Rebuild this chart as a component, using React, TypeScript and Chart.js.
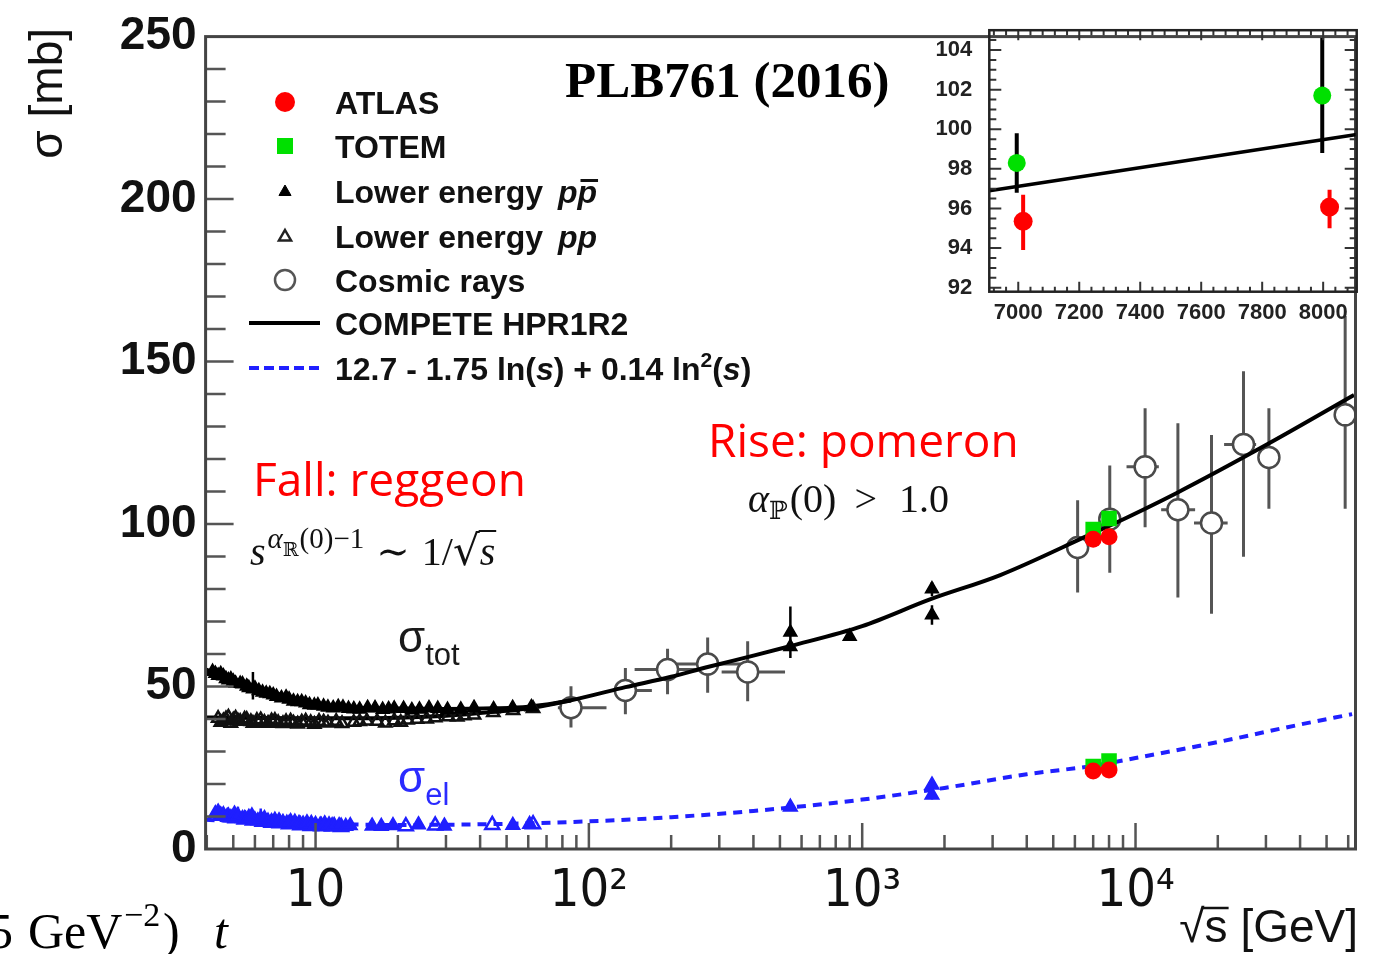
import { useEffect, useRef } from 'react';
import { Chart, registerables } from 'chart.js';

Chart.register(...registerables);

const W = 1381;
const H = 954;

const SANS = "'Liberation Sans', Arial, sans-serif";
const NARROW = "'Liberation Sans Narrow', 'DejaVu Sans Condensed', 'Liberation Sans', sans-serif";
const SERIF = "'Liberation Serif', 'DejaVu Serif', serif";
const MATHSYM = "'DejaVu Serif', 'Liberation Serif', serif";
const HUMANIST = "'Open Sans', 'Liberation Sans', sans-serif";

// ---------- main panel axis ranges / tick labels ----------
const X_MIN = 3.96;
const X_MAX = 63800;
const Y_MIN = 0;
const Y_MAX = 250;
const xTickValues = [10, 100, 1000, 10000];
const xTickLabels = ['10', '10²', '10³', '10⁴'];
const xMinorMantissas = [2, 3, 4, 5, 6, 7, 8, 9];
const yTickValues = [0, 50, 100, 150, 200, 250];

// ---------- cosmic-ray sigma_tot (sqrt(s) GeV, sigma mb) ----------
const cosmicSqrtS = [86, 136, 194, 272, 381, 6140, 8050, 10840, 14290, 18970, 24830, 30760, 58480];
const cosmicSigma = [43.5, 48.8, 55.2, 56.9, 54.5, 92.8, 101.5, 117.6, 104.4, 100.3, 124.5, 120.5, 133.6];
const cosmicSigmaLo = [37.4, 41.5, 47.6, 48.1, 45.5, 78.9, 85.0, 99.0, 77.4, 72.4, 89.9, 104.7, 104.7];
const cosmicSigmaHi = [50.1, 55.7, 61.6, 65.1, 63.9, 107.3, 118.0, 135.6, 131.0, 127.4, 147.0, 135.6, 164.0];
const cosmicSqrtSLo = [77, 124, 147, 210, 306, null, null, 9270, 12410, 16370, 21090, null, null];
const cosmicSqrtSHi = [116, 170, 255, 367, 522, null, null, 12170, 16520, 21730, 27620, null, null];

// ---------- lower-energy p-pbar sigma_tot ----------
const ppbarTotSqrtS = [
  4.2, 4.3, 4.4, 4.5, 4.6, 4.7, 4.8, 4.9, 5.0, 5.1, 5.3, 5.4, 5.6, 5.7, 5.9, 6.0, 6.2, 6.4, 6.6, 6.8,
  7.0, 7.2, 7.5, 7.8, 8.0, 8.3, 8.6, 8.9, 9.2, 9.5, 9.9, 10.2, 10.7, 11.1, 11.6, 12.1, 12.6, 13.2, 13.8, 14.5,
  15.5, 16.5, 17.6, 18.5, 19.4, 21.0, 22.5, 24.0, 26.0, 28.0, 30.4, 34.0, 38.0, 44.8, 52.6, 61.6,
  546, 546, 900, 1800, 1800,
];
const ppbarTot = [
  54.6, 54.0, 53.4, 53.9, 53.2, 52.4, 52.0, 52.3, 51.6, 51.0, 50.9, 50.8, 50.1, 49.6, 49.2, 49.5, 48.7, 48.2, 47.9, 47.8,
  47.4, 46.9, 46.5, 46.7, 46.1, 45.5, 45.3, 45.3, 44.9, 44.4, 44.2, 44.3, 43.9, 43.6, 43.4, 43.8, 43.6, 43.2, 43.1, 43.0,
  43.5, 43.4, 42.9, 43.1, 43.3, 43.2, 42.8, 43.0, 43.4, 43.2, 42.9, 43.0, 43.5, 43.1, 43.5, 43.7,
  62.2, 66.7, 65.4, 72.0, 80.0,
];
// p-pbar sigma_tot points that carry visible error bars
const ppbarBarSqrtS = [5.9, 61.6, 546, 1800, 1800];
const ppbarBarSigma = [49.2, 43.7, 66.7, 72.0, 80.0];
const ppbarBarLo = [46.0, 42.3, 58.8, 69.0, 77.8];
const ppbarBarHi = [54.5, 45.1, 74.6, 75.0, 82.2];

// ---------- lower-energy pp sigma_tot ----------
const ppTotSqrtS = [
  4.4, 4.5, 4.6, 4.7, 4.8, 4.9, 5.0, 5.1, 5.2, 5.3, 5.5, 5.6, 5.8, 5.9, 6.1, 6.3, 6.5, 6.7, 6.9, 7.1,
  7.3, 7.6, 7.8, 8.1, 8.3, 8.6, 8.9, 9.2, 9.6, 9.9, 10.3, 10.7, 11.1, 11.9, 12.5, 13.8, 14.5, 15.4, 16.8, 18.0,
  19.4, 20.5, 21.7, 23.5, 25.5, 27.4, 30.6, 33.0, 35.0, 38.0, 44.7, 52.8, 62.5,
];
const ppTot = [
  40.2, 39.0, 39.5, 40.1, 40.6, 38.7, 39.7, 40.3, 39.4, 39.3, 40.0, 39.9, 39.2, 38.7, 39.6, 39.8, 39.0, 38.7, 39.5, 39.6,
  38.9, 38.6, 39.2, 39.4, 38.8, 38.5, 39.1, 39.4, 38.9, 38.4, 39.3, 39.1, 38.8, 39.3, 38.6, 39.0, 39.2, 39.4, 39.3, 38.8,
  39.5, 39.0, 39.7, 39.9, 40.0, 40.4, 40.7, 40.6, 41.0, 41.2, 42.0, 42.6, 43.2,
];

// ---------- lower-energy sigma_el ----------
const elPpbarSqrtS = [
  4.3, 4.4, 4.6, 4.75, 4.9, 5.05, 5.2, 5.4, 5.55, 5.7, 5.85, 6.0, 6.15, 6.3, 6.5, 6.7, 6.9, 7.1, 7.35, 7.6,
  7.85, 8.1, 8.4, 8.7, 9.0, 9.3, 9.65, 10.0, 10.4, 10.8, 11.2, 11.7, 12.2, 12.9, 13.4, 16.1, 17.4, 19.2, 23.8, 29.6,
  52.7, 60.7, 546, 1800, 1800,
];
const elPpbar = [
  10.9, 11.4, 10.6, 10.1, 9.7, 10.8, 10.3, 9.4, 9.2, 9.8, 10.2, 9.0, 8.7, 9.3, 9.4, 8.6, 8.4, 8.9, 8.7, 8.2,
  8.0, 8.5, 8.3, 7.9, 7.7, 8.1, 7.9, 7.6, 7.4, 7.8, 7.5, 7.3, 7.2, 7.0, 7.2, 7.1, 7.0, 7.2, 7.5, 7.1,
  7.3, 7.6, 12.9, 19.7, 16.6,
];
const elBarSqrtS = [4.4, 5.2, 6.3, 1800, 1800];
const elBarSigma = [11.4, 10.3, 9.3, 19.7, 16.6];
const elBarLo = [9.5, 8.5, 7.5, 18.2, 15.2];
const elBarHi = [12.8, 13.0, 12.5, 21.2, 18.0];
const elPpSqrtS = [4.5, 4.8, 5.1, 5.5, 5.9, 6.4, 6.9, 7.4, 8.0, 8.8, 9.6, 10.5, 11.5, 12.4, 21.4, 27.4, 44.3, 62.5];
const elPp = [10.2, 9.9, 9.5, 9.1, 8.8, 8.4, 8.1, 7.9, 7.6, 7.3, 7.1, 7.0, 6.9, 6.8, 7.0, 7.2, 7.4, 7.6];

// ---------- LHC points ----------
const atlasSqrtS = [7000, 8000];
const atlasTot = [95.35, 96.07];
const atlasEl = [24.0, 24.33];
const totemSqrtS = [7000, 8000];
const totemTot = [98.3, 101.7];
const totemEl = [25.4, 27.1];

// ---------- fit curves ----------
const competePpbarSqrtS = [3.96, 5, 7, 10, 14, 20, 30, 45, 60, 86, 136, 200, 272, 400, 543, 1000, 1770, 3200, 7000, 8000, 14100, 30000, 63000];
const competePpbarSigma = [55.3, 52.0, 48.2, 44.6, 43.5, 43.2, 43.1, 43.3, 43.8, 45.8, 49.8, 53.0, 56.0, 59.5, 62.4, 68.6, 76.8, 84.3, 97.2, 99.4, 109.5, 124.3, 139.7];
const competePpSqrtS = [3.96, 5, 7, 10, 14, 20, 30, 45, 60, 86];
const competePpSigma = [40.5, 40.4, 40.3, 40.2, 40.2, 40.4, 41.0, 42.2, 43.3, 45.7];
const elFitSqrtS = [3.96, 6, 10, 20, 40, 100, 200, 400, 1000, 2000, 4000, 7000, 10000, 20000, 40000, 62000];
const elFitSigma = [9.0, 8.3, 7.8, 7.4, 7.6, 8.5, 9.8, 11.7, 15.2, 18.8, 23.0, 25.6, 28.0, 32.9, 38.3, 41.5];

// ---------- inset (7-8 TeV zoom) ----------
const IN_X_MIN = 6905;
const IN_X_MAX = 8110;
const IN_Y_MIN = 91.8;
const IN_Y_MAX = 105;
const insetTotemX = [6995, 7997];
const insetTotemY = [98.3, 101.7];
const insetTotemLo = [96.8, 98.8];
const insetTotemHi = [99.8, 104.6];
const insetAtlasX = [7016, 8021];
const insetAtlasY = [95.35, 96.07];
const insetAtlasLo = [93.9, 95.0];
const insetAtlasHi = [96.7, 96.95];
const insetFitX = [6905, 8110];
const insetFitY = [96.9, 99.74];

type Num = number | null;
const pts = (xs: number[], ys: number[], yLo?: Num[], yHi?: Num[], xLo?: Num[], xHi?: Num[]) =>
  xs.map((x, i) => ({
    x,
    y: ys[i],
    yLo: yLo ? yLo[i] : null,
    yHi: yHi ? yHi[i] : null,
    xLo: xLo ? xLo[i] : null,
    xHi: xHi ? xHi[i] : null,
  }));

// Error bars are stroked just before the owning dataset's markers.
const errorBars = {
  id: 'errorBars',
  beforeDatasetDraw(chart: any, args: any) {
    const ds = chart.data.datasets[args.index];
    if (!ds.errColor) return;
    const xs = chart.scales.x;
    const ys = chart.scales.y;
    const { ctx, chartArea: a } = chart;
    ctx.save();
    ctx.beginPath();
    ctx.rect(a.left, a.top, a.right - a.left, a.bottom - a.top);
    ctx.clip();
    ctx.strokeStyle = ds.errColor;
    ctx.lineWidth = ds.errWidth || 2;
    ctx.beginPath();
    for (const p of ds.data) {
      const px = xs.getPixelForValue(p.x);
      const py = ys.getPixelForValue(p.y);
      if (p.yLo != null && p.yHi != null) {
        ctx.moveTo(px, ys.getPixelForValue(p.yLo));
        ctx.lineTo(px, ys.getPixelForValue(p.yHi));
      }
      if (p.xLo != null && p.xHi != null) {
        ctx.moveTo(xs.getPixelForValue(p.xLo), py);
        ctx.lineTo(xs.getPixelForValue(p.xHi), py);
      }
    }
    ctx.stroke();
    ctx.restore();
  },
};

// ROOT-style frame with ticks pointing into the plot.
function framePlugin(cfg: any) {
  return {
    id: 'frame',
    afterDatasetsDraw(chart: any) {
      const { ctx, chartArea: a, scales } = chart;
      const xs = scales.x;
      const ys = scales.y;
      ctx.save();
      ctx.strokeStyle = cfg.tickColor;
      ctx.lineWidth = cfg.tickWidth;
      ctx.beginPath();
      for (const t of xs.ticks) {
        const px = xs.getPixelForValue(t.value);
        if (px <= a.left + 1 || px >= a.right - 1) continue;
        const len = cfg.isMajorX(t.value) ? cfg.xMajor : cfg.xMinor;
        ctx.moveTo(px, a.bottom);
        ctx.lineTo(px, a.bottom - len);
        if (cfg.mirror) {
          ctx.moveTo(px, a.top);
          ctx.lineTo(px, a.top + len);
        }
      }
      for (const t of ys.ticks) {
        const py = ys.getPixelForValue(t.value);
        if (py <= a.top + 1 || py >= a.bottom - 1) continue;
        const len = cfg.isMajorY(t.value) ? cfg.yMajor : cfg.yMinor;
        ctx.moveTo(a.left, py);
        ctx.lineTo(a.left + len, py);
        if (cfg.mirror) {
          ctx.moveTo(a.right, py);
          ctx.lineTo(a.right - len, py);
        }
      }
      ctx.stroke();
      ctx.strokeStyle = cfg.frameColor;
      ctx.lineWidth = cfg.frameWidth;
      ctx.strokeRect(a.left, a.top, a.right - a.left, a.bottom - a.top);
      ctx.restore();
    },
  };
}

type Run = { t: string; font: string; dy?: number; gap?: number; bar?: boolean; root?: boolean; color?: string };
// Draws a sequence of text pieces; `bar` puts an overline on a piece,
// `root` extends a radical's vinculum over the following piece.
function drawRuns(ctx: CanvasRenderingContext2D, x: number, y: number, list: Run[]) {
  let cx = x;
  let rootTop: number | null = null;
  for (const r of list) {
    cx += r.gap || 0;
    ctx.font = r.font;
    if (r.color) ctx.fillStyle = r.color;
    const yy = y + (r.dy || 0);
    ctx.fillText(r.t, cx, yy);
    const m = ctx.measureText(r.t);
    const w = m.width;
    if (r.bar || rootTop !== null) {
      const top = rootTop !== null ? rootTop : yy - ctx.measureText('x').actualBoundingBoxAscent - 5;
      ctx.save();
      ctx.strokeStyle = ctx.fillStyle as string;
      ctx.lineWidth = rootTop !== null ? 2 : 3;
      ctx.beginPath();
      ctx.moveTo(rootTop !== null ? cx - 1 : cx + 3, top);
      ctx.lineTo(cx + w + 1, top);
      ctx.stroke();
      ctx.restore();
      rootTop = null;
    }
    if (r.root) rootTop = yy - m.actualBoundingBoxAscent + 1;
    cx += w;
  }
  return cx;
}

function triangle(ctx: CanvasRenderingContext2D, x: number, y: number, r: number, fill: string | null, stroke: string, lw: number) {
  ctx.beginPath();
  ctx.moveTo(x, y - r);
  ctx.lineTo(x + r * 0.866, y + r * 0.5);
  ctx.lineTo(x - r * 0.866, y + r * 0.5);
  ctx.closePath();
  if (fill) {
    ctx.fillStyle = fill;
    ctx.fill();
  }
  ctx.strokeStyle = stroke;
  ctx.lineWidth = lw;
  ctx.stroke();
}

function drawLegend(ctx: CanvasRenderingContext2D) {
  const mx = 285;
  const tx = 335;
  const rows = [102, 146, 191, 236, 280, 323, 368];
  const f = `bold 32px ${SANS}`;
  const fi = `italic bold 32px ${SANS}`;
  const fs = `bold 21px ${SANS}`;

  ctx.fillStyle = '#ff0000';
  ctx.beginPath();
  ctx.arc(mx, rows[0], 10, 0, Math.PI * 2);
  ctx.fill();

  ctx.fillStyle = '#00e000';
  ctx.fillRect(mx - 8, rows[1] - 8, 16, 16);

  triangle(ctx, mx, rows[2] + 1, 7, '#000', '#000', 1);
  triangle(ctx, mx, rows[3] + 1, 7, null, '#222', 2.5);

  ctx.beginPath();
  ctx.arc(mx, rows[4], 10, 0, Math.PI * 2);
  ctx.fillStyle = '#fff';
  ctx.fill();
  ctx.strokeStyle = '#555';
  ctx.lineWidth = 2.5;
  ctx.stroke();

  ctx.strokeStyle = '#000';
  ctx.lineWidth = 4;
  ctx.beginPath();
  ctx.moveTo(249, rows[5]);
  ctx.lineTo(320, rows[5]);
  ctx.stroke();

  ctx.save();
  ctx.strokeStyle = '#2020ff';
  ctx.lineWidth = 4;
  ctx.setLineDash([10, 5]);
  ctx.beginPath();
  ctx.moveTo(249, rows[6]);
  ctx.lineTo(320, rows[6]);
  ctx.stroke();
  ctx.restore();

  ctx.fillStyle = '#111';
  ctx.textAlign = 'left';
  ctx.textBaseline = 'alphabetic';
  const b = (i: number) => rows[i] + 11.5;
  drawRuns(ctx, tx, b(0), [{ t: 'ATLAS', font: f }]);
  drawRuns(ctx, tx, b(1), [{ t: 'TOTEM', font: f }]);
  drawRuns(ctx, tx, b(2), [
    { t: 'Lower energy ', font: f },
    { t: 'p', font: fi, gap: 6 },
    { t: 'p', font: fi, bar: true },
  ]);
  drawRuns(ctx, tx, b(3), [
    { t: 'Lower energy ', font: f },
    { t: 'pp', font: fi, gap: 6 },
  ]);
  drawRuns(ctx, tx, b(4), [{ t: 'Cosmic rays', font: f }]);
  drawRuns(ctx, tx, b(5), [{ t: 'COMPETE HPR1R2', font: f }]);
  drawRuns(ctx, tx, b(6), [
    { t: '12.7 - 1.75 ln(', font: f },
    { t: 's', font: fi },
    { t: ') + 0.14 ln', font: f },
    { t: '2', font: fs, dy: -13 },
    { t: '(', font: f },
    { t: 's', font: fi },
    { t: ')', font: f },
  ]);
}

const mainDecor = {
  id: 'mainDecor',
  afterDraw(chart: any) {
    const ctx: CanvasRenderingContext2D = chart.ctx;
    ctx.save();
    drawLegend(ctx);

    // journal reference
    ctx.fillStyle = '#000';
    ctx.textAlign = 'left';
    ctx.textBaseline = 'alphabetic';
    ctx.font = `bold 51px ${SERIF}`;
    ctx.fillText('PLB761 (2016)', 565, 97);

    // physics annotations
    ctx.fillStyle = '#ff0000';
    ctx.font = `46px ${HUMANIST}`;
    ctx.fillText('Fall: reggeon', 253, 496);
    ctx.fillText('Rise: pomeron', 708, 457);

    ctx.fillStyle = '#111';
    const mi = `italic 40px ${SERIF}`;
    const mr = `40px ${SERIF}`;
    drawRuns(ctx, 250, 565, [
      { t: 's', font: mi },
      { t: 'α', font: `italic 29px ${SERIF}`, dy: -17, gap: 2 },
      { t: 'ℝ', font: `19px ${MATHSYM}`, dy: -9 },
      { t: '(0)−1', font: `29px ${SERIF}`, dy: -17, gap: 1 },
      { t: '∼', font: mr, gap: 12 },
      { t: '1/', font: mr, gap: 12 },
      { t: '√', font: `42px ${MATHSYM}`, gap: 0, root: true },
      { t: 's', font: mi },
    ]);
    drawRuns(ctx, 748, 512, [
      { t: 'α', font: mi },
      { t: 'ℙ', font: `25px ${MATHSYM}`, dy: 7 },
      { t: '(0)', font: mr, gap: 2 },
      { t: '>', font: mr, gap: 18 },
      { t: '1.0', font: mr, gap: 22 },
    ]);

    // curve labels
    ctx.fillStyle = '#1a1a1a';
    drawRuns(ctx, 398, 652, [
      { t: 'σ', font: `44px ${SANS}` },
      { t: 'tot', font: `31px ${SANS}`, dy: 13 },
    ]);
    ctx.fillStyle = '#2b2bff';
    drawRuns(ctx, 398, 792, [
      { t: 'σ', font: `44px ${SANS}` },
      { t: 'el', font: `31px ${SANS}`, dy: 13 },
    ]);

    // axis titles
    ctx.fillStyle = '#111';
    ctx.font = `46px ${SANS}`;
    const sq = ctx.measureText('√').width;
    const ss = ctx.measureText('s').width;
    const rest = ctx.measureText(' [GeV]').width;
    const x0 = 1358 - (sq + ss + rest);
    drawRuns(ctx, x0, 942, [
      { t: '√', font: `46px ${SANS}` },
      { t: 's', font: `46px ${SANS}` },
      { t: ' [GeV]', font: `46px ${SANS}` },
    ]);
    ctx.strokeStyle = '#111';
    ctx.lineWidth = 2.5;
    ctx.beginPath();
    ctx.moveTo(x0 + sq - 2, 908);
    ctx.lineTo(x0 + sq + ss + 1, 908);
    ctx.stroke();

    ctx.save();
    ctx.translate(62, 28);
    ctx.rotate(-Math.PI / 2);
    ctx.textAlign = 'right';
    ctx.font = `46px ${SANS}`;
    ctx.fillText('σ [mb]', 0, 0);
    ctx.restore();

    // trailing line of the slide text below the plot
    ctx.fillStyle = '#000';
    ctx.textAlign = 'left';
    ctx.font = `50px ${SERIF}`;
    ctx.fillText('5', -12, 948);
    ctx.fillText('GeV', 28, 948);
    ctx.font = `34px ${SERIF}`;
    ctx.fillText('−2', 124, 926);
    ctx.font = `50px ${SERIF}`;
    ctx.fillText(')', 163, 948);
    ctx.font = `italic 50px ${SERIF}`;
    ctx.fillText('t', 214, 948);

    ctx.restore();
  },
};

function mainXTicks() {
  const out: { value: number }[] = [];
  for (let e = 0; e <= 4; e++) {
    for (const m of [1, ...xMinorMantissas]) {
      const v = m * 10 ** e;
      if (v >= X_MIN && v <= X_MAX) out.push({ value: v });
    }
  }
  return out;
}

function mainConfig(): any {
  return {
    type: 'scatter',
    data: {
      datasets: [
        {
          label: 'Cosmic rays',
          data: pts(cosmicSqrtS, cosmicSigma, cosmicSigmaLo, cosmicSigmaHi, cosmicSqrtSLo, cosmicSqrtSHi),
          pointStyle: 'circle',
          pointRadius: 10.5,
          pointBorderWidth: 2.5,
          pointBorderColor: '#4a4a4a',
          pointBackgroundColor: '#ffffff',
          errColor: '#555555',
          errWidth: 3,
          order: 8,
        },
        {
          label: 'COMPETE HPR1R2 (p-pbar)',
          data: pts(competePpbarSqrtS, competePpbarSigma),
          showLine: true,
          pointRadius: 0,
          borderColor: '#000000',
          borderWidth: 4,
          cubicInterpolationMode: 'monotone',
          order: 6,
        },
        {
          label: 'COMPETE HPR1R2 (pp)',
          data: pts(competePpSqrtS, competePpSigma),
          showLine: true,
          pointRadius: 0,
          borderColor: '#000000',
          borderWidth: 4,
          cubicInterpolationMode: 'monotone',
          order: 6,
        },
        {
          label: '12.7 - 1.75 ln(s) + 0.14 ln2(s)',
          data: pts(elFitSqrtS, elFitSigma),
          showLine: true,
          pointRadius: 0,
          borderColor: '#2020ff',
          borderWidth: 4,
          borderDash: [9, 7],
          cubicInterpolationMode: 'monotone',
          order: 7,
        },
        {
          label: 'Lower energy pp (tot)',
          data: pts(ppTotSqrtS, ppTot),
          pointStyle: 'triangle',
          pointRadius: 7,
          pointBorderWidth: 2.5,
          pointBorderColor: '#111111',
          pointBackgroundColor: 'rgba(0,0,0,0)',
          order: 4,
        },
        {
          label: 'p-pbar error bars',
          data: pts(ppbarBarSqrtS, ppbarBarSigma, ppbarBarLo, ppbarBarHi),
          pointRadius: 0,
          errColor: '#000000',
          errWidth: 2.5,
          order: 3.5,
        },
        {
          label: 'Lower energy p-pbar (tot)',
          data: pts(ppbarTotSqrtS, ppbarTot),
          pointStyle: 'triangle',
          pointRadius: 7.5,
          pointBorderWidth: 1.5,
          pointBorderColor: '#000000',
          pointBackgroundColor: '#000000',
          order: 3,
        },
        {
          label: 'Lower energy pp (el)',
          data: pts(elPpSqrtS, elPp),
          pointStyle: 'triangle',
          pointRadius: 8,
          pointBorderWidth: 2.5,
          pointBorderColor: '#1f1fff',
          pointBackgroundColor: 'rgba(0,0,0,0)',
          order: 4,
        },
        {
          label: 'el error bars',
          data: pts(elBarSqrtS, elBarSigma, elBarLo, elBarHi),
          pointRadius: 0,
          errColor: '#1f1fff',
          errWidth: 2.5,
          order: 3.5,
        },
        {
          label: 'Lower energy p-pbar (el)',
          data: pts(elPpbarSqrtS, elPpbar),
          pointStyle: 'triangle',
          pointRadius: 8,
          pointBorderWidth: 1.5,
          pointBorderColor: '#1f1fff',
          pointBackgroundColor: '#1f1fff',
          order: 3,
        },
        {
          label: 'ATLAS',
          data: pts(atlasSqrtS, atlasTot),
          pointStyle: 'circle',
          pointRadius: 8.5,
          pointBorderWidth: 0,
          pointBackgroundColor: '#ff0000',
          order: 1,
        },
        {
          label: 'TOTEM',
          data: pts(totemSqrtS, totemTot),
          pointStyle: 'rect',
          pointRadius: 11,
          pointBorderWidth: 0,
          pointBackgroundColor: '#00e000',
          order: 2,
        },
        {
          label: 'ATLAS el',
          data: pts(atlasSqrtS, atlasEl),
          pointStyle: 'circle',
          pointRadius: 8.5,
          pointBorderWidth: 0,
          pointBackgroundColor: '#ff0000',
          order: 1,
        },
        {
          label: 'TOTEM el',
          data: pts(totemSqrtS, totemEl),
          pointStyle: 'rect',
          pointRadius: 11,
          pointBorderWidth: 0,
          pointBackgroundColor: '#00e000',
          order: 2,
        },
      ],
    },
    options: {
      animation: false,
      responsive: false,
      maintainAspectRatio: false,
      events: [],
      layout: { padding: { left: 0, top: 31, right: 25.5, bottom: 0 } },
      plugins: { legend: { display: false }, tooltip: { enabled: false } },
      scales: {
        x: {
          type: 'logarithmic',
          min: X_MIN,
          max: X_MAX,
          grid: { display: false, drawTicks: false },
          border: { display: false },
          afterBuildTicks: (s: any) => {
            s.ticks = mainXTicks();
          },
          afterFit: (s: any) => {
            s.height = H - 849;
          },
          ticks: {
            autoSkip: false,
            maxRotation: 0,
            minRotation: 0,
            padding: 12,
            color: '#111',
            font: { family: NARROW, size: 52 },
            callback: (v: number) => {
              const i = xTickValues.indexOf(v);
              return i >= 0 ? xTickLabels[i] : '';
            },
          },
        },
        y: {
          type: 'linear',
          min: Y_MIN,
          max: Y_MAX,
          grid: { display: false, drawTicks: false },
          border: { display: false },
          afterBuildTicks: (s: any) => {
            const t: { value: number }[] = [];
            for (let v = Y_MIN; v <= Y_MAX; v += 10) t.push({ value: v });
            s.ticks = t;
          },
          afterFit: (s: any) => {
            s.width = 205.6;
          },
          ticks: {
            autoSkip: false,
            padding: 9,
            color: '#111',
            font: { family: SANS, size: 46, weight: 'bold' },
            callback: (v: number) => (yTickValues.includes(v) ? String(v) : ''),
          },
        },
      },
    },
    plugins: [
      errorBars,
      framePlugin({
        tickColor: '#555',
        tickWidth: 2.5,
        frameColor: '#444',
        frameWidth: 3,
        xMajor: 26,
        xMinor: 14,
        yMajor: 28,
        yMinor: 20,
        mirror: false,
        isMajorX: (v: number) => xTickValues.includes(v),
        isMajorY: (v: number) => yTickValues.includes(v),
      }),
      mainDecor,
    ],
  };
}

function insetConfig(): any {
  return {
    type: 'scatter',
    data: {
      datasets: [
        {
          label: 'COMPETE HPR1R2',
          data: pts(insetFitX, insetFitY),
          showLine: true,
          pointRadius: 0,
          borderColor: '#000',
          borderWidth: 3.5,
          order: 5,
        },
        {
          label: 'TOTEM',
          data: pts(insetTotemX, insetTotemY, insetTotemLo, insetTotemHi),
          pointStyle: 'circle',
          pointRadius: 9,
          pointBorderWidth: 0,
          pointBackgroundColor: '#00e000',
          errColor: '#000',
          errWidth: 4,
          order: 2,
        },
        {
          label: 'ATLAS',
          data: pts(insetAtlasX, insetAtlasY, insetAtlasLo, insetAtlasHi),
          pointStyle: 'circle',
          pointRadius: 9.5,
          pointBorderWidth: 0,
          pointBackgroundColor: '#ff0000',
          errColor: '#ff0000',
          errWidth: 4,
          order: 1,
        },
      ],
    },
    options: {
      animation: false,
      responsive: false,
      maintainAspectRatio: false,
      events: [],
      layout: { padding: { left: 0, top: 30, right: 24.3, bottom: 0 } },
      plugins: { legend: { display: false }, tooltip: { enabled: false } },
      scales: {
        x: {
          type: 'linear',
          min: IN_X_MIN,
          max: IN_X_MAX,
          grid: { display: false, drawTicks: false },
          border: { display: false },
          afterBuildTicks: (s: any) => {
            const t: { value: number }[] = [];
            for (let v = 6920; v <= 8080; v += 40) t.push({ value: v });
            s.ticks = t;
          },
          afterFit: (s: any) => {
            s.height = 340 - 291.7;
          },
          ticks: {
            autoSkip: false,
            maxRotation: 0,
            minRotation: 0,
            padding: 8,
            color: '#222',
            font: { family: SANS, size: 22, weight: 'bold' },
            callback: (v: number) => (v % 200 === 0 ? String(v) : ''),
          },
        },
        y: {
          type: 'linear',
          min: IN_Y_MIN,
          max: IN_Y_MAX,
          grid: { display: false, drawTicks: false },
          border: { display: false },
          afterBuildTicks: (s: any) => {
            const t: { value: number }[] = [];
            for (let v = 92; v <= 104.5; v += 0.5) t.push({ value: v });
            s.ticks = t;
          },
          afterFit: (s: any) => {
            s.width = 89.3;
          },
          ticks: {
            autoSkip: false,
            padding: 17,
            color: '#222',
            font: { family: SANS, size: 22, weight: 'bold' },
            callback: (v: number) => (v % 2 === 0 ? String(v) : ''),
          },
        },
      },
    },
    plugins: [
      errorBars,
      framePlugin({
        tickColor: '#333',
        tickWidth: 2,
        frameColor: '#222',
        frameWidth: 2.5,
        xMajor: 10,
        xMinor: 5,
        yMajor: 12,
        yMinor: 7,
        mirror: true,
        isMajorX: (v: number) => v % 200 === 0,
        isMajorY: (v: number) => v % 2 === 0,
      }),
    ],
  };
}

export default function App() {
  const mainRef = useRef<HTMLCanvasElement>(null);
  const insetRef = useRef<HTMLCanvasElement>(null);

  useEffect(() => {
    const main = new Chart(mainRef.current as HTMLCanvasElement, mainConfig());
    const inset = new Chart(insetRef.current as HTMLCanvasElement, insetConfig());
    return () => {
      main.destroy();
      inset.destroy();
    };
  }, []);

  return (
    <div style={{ position: 'absolute', left: 0, top: 0, width: W, height: H, background: '#fff', overflow: 'hidden' }}>
      <canvas ref={mainRef} width={W} height={H} style={{ position: 'absolute', left: 0, top: 0, width: W, height: H }} />
      <canvas ref={insetRef} width={481} height={340} style={{ position: 'absolute', left: 900, top: 0, width: 481, height: 340 }} />
    </div>
  );
}
